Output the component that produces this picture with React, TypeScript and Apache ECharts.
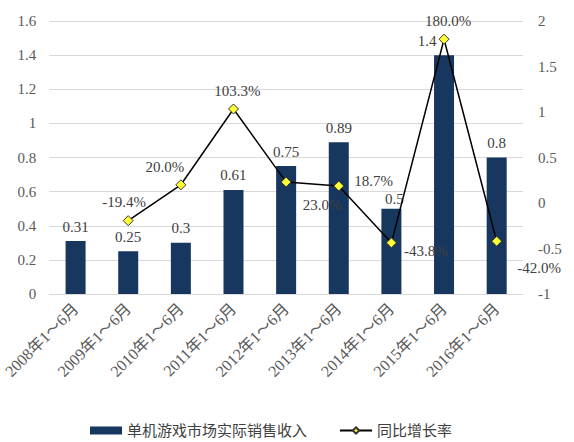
import { useEffect, useRef } from 'react';
import * as echarts from 'echarts';

const years = ['2008', '2009', '2010', '2011', '2012', '2013', '2014', '2015', '2016'];
const categories = years.map(y => `${y}年1～6月`);
// 单机游戏市场实际销售收入
const revenue = [0.31, 0.25, 0.3, 0.61, 0.75, 0.89, 0.5, 1.4, 0.8];
// 同比增长率 (%), 2008 has no value
const growth: (number | null)[] = [null, -19.4, 20.0, 103.3, 23.0, 18.7, -43.8, 180.0, -42.0];

const leftTicks = { min: 0, max: 1.6, interval: 0.2 };
const rightTicks = { min: -1, max: 2, interval: 0.5 };

// where each growth label sits around its point
const growthLabelPlacement: Array<{ position: string; offset: [number, number] }> = [
  { position: 'top', offset: [0, 0] },
  { position: 'top', offset: [-4, -1] },
  { position: 'top', offset: [-16, 0] },
  { position: 'top', offset: [4, 0] },
  { position: 'bottom', offset: [36, 5] },
  { position: 'right', offset: [5, -5] },
  { position: 'right', offset: [2, 8] },
  { position: 'top', offset: [4, 0] },
  { position: 'right', offset: [10, 27] },
];
// nudges for the crowded bar labels
const barLabelOffset: Record<number, [number, number]> = {
  6: [3, 5],
  7: [-17, 0],
};

const FONT = '"Liberation Serif", "Noto Sans CJK SC", serif';
const TEXT = '#404040';
const AXIS_TEXT = '#595959';
const BAR = '#17375E';

export default function App() {
  const chartRef = useRef<HTMLDivElement>(null);

  useEffect(() => {
    if (!chartRef.current) return;
    const chart = echarts.init(chartRef.current, undefined, { renderer: 'svg' });

    const option: echarts.EChartsOption = {
      animation: false,
      backgroundColor: '#fff',
      textStyle: { fontFamily: FONT },
      grid: { left: 48, right: 51, top: 21, bottom: 148 },
      legend: {
        left: 85,
        top: 418,
        itemGap: 32,
        itemWidth: 32,
        itemHeight: 8,
        textStyle: { fontFamily: FONT, fontSize: 15, color: TEXT },
        data: [
          { name: '单机游戏市场实际销售收入', icon: 'rect' },
          { name: '同比增长率' },
        ],
      },
      xAxis: {
        type: 'category',
        data: categories,
        axisLine: { lineStyle: { color: '#d9d9d9' } },
        axisTick: { show: false },
        axisLabel: {
          rotate: 45,
          margin: 12,
          interval: 0,
          fontSize: 16,
          fontFamily: FONT,
          color: AXIS_TEXT,
        },
      },
      yAxis: [
        {
          type: 'value',
          ...leftTicks,
          axisLine: { show: false },
          axisTick: { show: false },
          axisLabel: { fontSize: 15, fontFamily: FONT, color: AXIS_TEXT, margin: 13 },
          splitLine: { lineStyle: { color: '#d9d9d9' } },
        },
        {
          type: 'value',
          ...rightTicks,
          axisLine: { show: false },
          axisTick: { show: false },
          axisLabel: { fontSize: 15, fontFamily: FONT, color: AXIS_TEXT, margin: 15 },
          splitLine: { show: false },
        },
      ],
      series: [
        {
          name: '单机游戏市场实际销售收入',
          type: 'bar',
          yAxisIndex: 0,
          barWidth: '38%',
          itemStyle: { color: BAR },
          data: revenue.map((v, i) => ({
            value: v,
            label: barLabelOffset[i] ? { offset: barLabelOffset[i] } : undefined,
          })),
          label: {
            show: true,
            position: 'top',
            distance: 7,
            fontSize: 15,
            fontFamily: FONT,
            color: TEXT,
          },
        },
        {
          name: '同比增长率',
          type: 'line',
          yAxisIndex: 1,
          symbol: 'diamond',
          symbolSize: 10,
          lineStyle: { color: '#000', width: 1.5 },
          itemStyle: { color: '#FFFF33', borderColor: '#333', borderWidth: 1 },
          data: growth.map((g, i) => ({
            value: g === null ? '-' : g / 100,
            label: {
              position: growthLabelPlacement[i].position as any,
              offset: growthLabelPlacement[i].offset,
            },
          })),
          label: {
            show: true,
            fontSize: 15,
            fontFamily: FONT,
            color: TEXT,
            formatter: (p: any) => `${(p.value * 100).toFixed(1)}%`,
          },
        },
      ],
    };

    chart.setOption(option);
    return () => chart.dispose();
  }, []);

  return (
    <div
      ref={chartRef}
      style={{ position: 'absolute', left: 0, top: 0, width: 574, height: 442 }}
    />
  );
}
